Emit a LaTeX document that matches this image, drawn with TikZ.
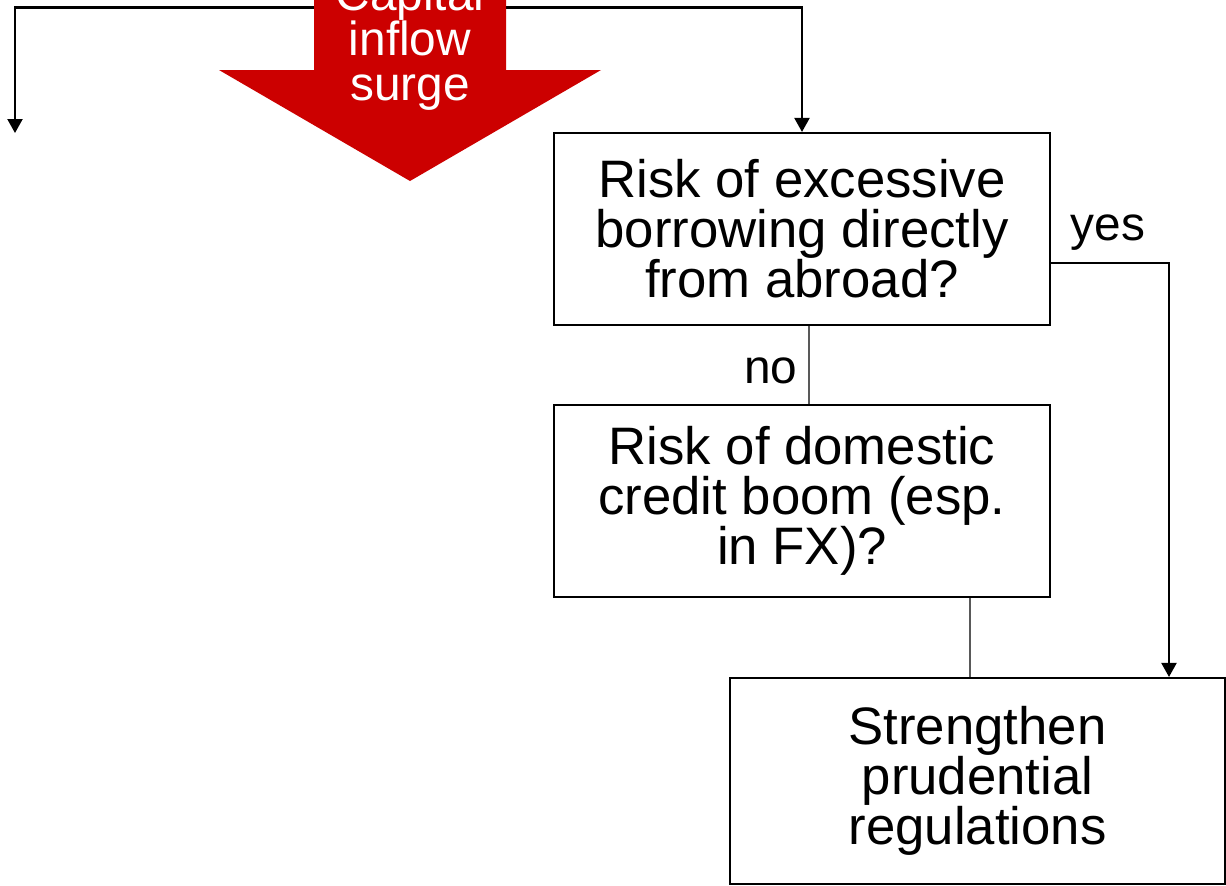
\documentclass[tikz,border=0pt]{standalone}
\usepackage{fontspec}
\setmainfont{Liberation Sans}
\usetikzlibrary{arrows.meta}
\definecolor{surgered}{HTML}{CC0000}
\begin{document}
\begin{tikzpicture}[
    question/.style = {draw, line width=0.6pt, minimum width=4.96cm, minimum height=1.92cm,
                       inner sep=0pt, align=center, font=\fontsize{15pt}{14.2pt}\selectfont},
    flow/.style = {line width=0.6pt, -{Triangle[length=0.14cm,width=0.15cm]}},
    branch/.style = {gray!70!black, line width=0.3pt},
    answer/.style = {font=\fontsize{13.6pt}{13pt}\selectfont, inner sep=0pt}
  ]
    \useasboundingbox (0,0) rectangle (12.26,-8.85);

    % Boxes
    \node[question] (abroad) at (8.02,-2.29) {Risk of excessive\\borrowing directly\\from abroad?};
    \node[question] (domestic) at (8.02,-5.01) {Risk of domestic\\credit boom (esp.\\in FX)?};
    \node[question, minimum width=4.95cm, minimum height=2.06cm] (prudential) at (9.775,-7.81)
        {Strengthen\\prudential\\regulations};

    % Split from the surge
    \coordinate (split) at (4.10,-0.075);
    \coordinate (leftend) at (0.15,-1.33);
    \draw[flow] (split) -| (leftend);
    \draw[flow] (split) -| (abroad.north);

    % Answers
    \draw[flow] ([yshift=-0.34cm]abroad.east) -| ([xshift=1.915cm]prudential.north);
    \node[answer, anchor=base west] (yes) at (10.70,-2.40) {yes};
    \draw[branch] ([xshift=0.07cm]abroad.south) -- ([xshift=0.07cm]domestic.north);
    \node[answer, anchor=base east] (no) at (7.98,-3.83) {no};
    \coordinate (down) at ([xshift=1.68cm]domestic.south);
    \draw[branch] (down) -- (down |- prudential.north);

    % Big red arrow
    \fill[surgered] (3.14,0.6) -- (3.14,-0.70) -- (2.19,-0.70) -- (4.10,-1.81)
        -- (6.01,-0.70) -- (5.06,-0.70) -- (5.06,0.6) -- cycle;
    \node[white, align=center, inner sep=0pt, font=\fontsize{13.6pt}{12.8pt}\selectfont]
        (surge) at (4.10,-0.43) {Capital\\inflow\\surge};
\end{tikzpicture}
\end{document}
